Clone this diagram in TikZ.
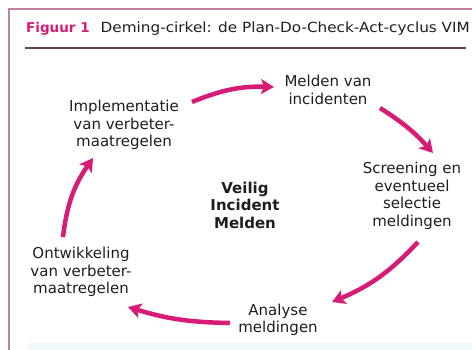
\documentclass[tikz,border=0pt]{standalone}
\usepackage{fontspec}
\setmainfont{DejaVu Sans}
\newfontfamily\titelfont[FakeStretch=1.09]{DejaVu Sans}
\usetikzlibrary{arrows.meta}
\definecolor{vimpink}{RGB}{214,28,118}
\definecolor{framepink}{RGB}{196,128,160}
\definecolor{rulecol}{RGB}{110,60,90}
\definecolor{txtgray}{RGB}{30,30,30}
\definecolor{bandblue}{RGB}{241,248,252}
\tikzset{
  stap/.style = {align=center, text=txtgray, font=\fontsize{15}{17.5}\selectfont, inner sep=0pt},
  cyclus/.style = {draw=vimpink, line width=4.5pt, -{Stealth[length=13pt,width=15pt,inset=3pt]}}
}
\begin{document}
\begin{tikzpicture}[x=1pt,y=-1pt]
\useasboundingbox (0,0) rectangle (472,350);
\fill[bandblue] (28,343) rectangle (472,350);
\draw[framepink, line width=1.4pt] (9,350) -- (9,9) -- (472,9);
\draw[rulecol, line width=1.3pt] (25,48) -- (466,48);
\node[anchor=base west, inner sep=0pt] (titel) at (26,33)
  {\textcolor{vimpink}{\fontsize{13.5}{15}\selectfont\textbf{Figuur 1}}\hspace{11pt}\textcolor{txtgray}{\titelfont\fontsize{14}{16}\selectfont Deming-cirkel: de Plan-Do-Check-Act-cyclus VIM}};

\node[stap] (melden) at (328,90) {Melden van\\incidenten};
\node[stap] (screening) at (412,196) {Screening en\\eventueel\\selectie\\meldingen};
\node[stap] (analyse) at (278,320) {Analyse\\meldingen};
\node[stap] (ontwikkeling) at (81,272) {Ontwikkeling\\van verbeter-\\maatregelen};
\node[stap] (implementatie) at (124,125) {Implementatie\\van verbeter-\\maatregelen};
\node[stap, font=\fontsize{15}{17.5}\selectfont\bfseries] (veilig) at (245,205) {Veilig\\Incident\\Melden};

\draw[cyclus] ([shift={(68,-23)}]implementatie.center) to[bend left=12] ([shift={(-54,-3)}]melden.center);
\draw[cyclus] ([shift={(52,18)}]melden.center) to[bend left=8] ([shift={(21,-43)}]screening.center);
\draw[cyclus] ([shift={(6,46)}]screening.center) to[bend left=12] ([shift={(54,-18)}]analyse.center);
\draw[cyclus] ([shift={(-48,3)}]analyse.center) to[bend left=8] ([shift={(47,35)}]ontwikkeling.center);
\draw[cyclus] ([shift={(-18,-35)}]ontwikkeling.center) to[bend left=14] ([shift={(-31,33)}]implementatie.center);
\end{tikzpicture}
\end{document}
